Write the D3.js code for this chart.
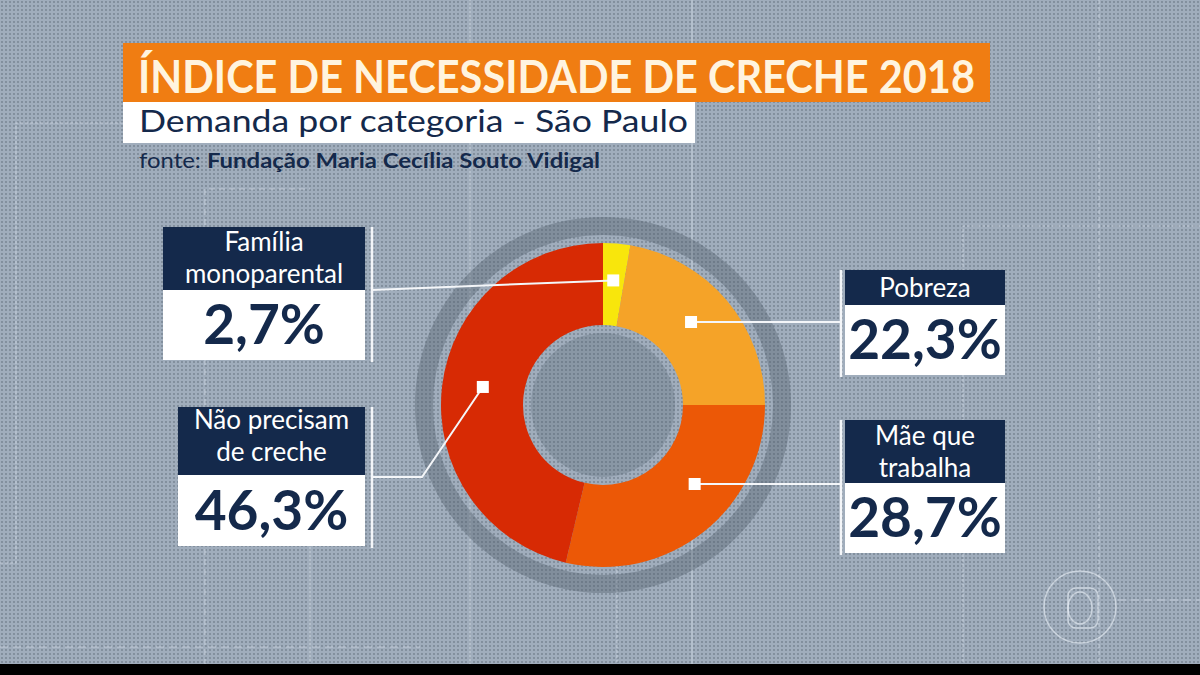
<!DOCTYPE html>
<html>
<head>
<meta charset="utf-8">
<script src="https://cdn.jsdelivr.net/npm/d3@7"></script>
<style>
  body { margin: 0; background: #000; }
  svg { display: block; font-family: Lato, "Open Sans", sans-serif; }
</style>
</head>
<body>
<div id="chart"></div>
<script>
var width = 1200;
var height = 675;

// data
var categories = ["Família monoparental", "Pobreza", "Mãe que trabalha", "Não precisam de creche"];
var headerLines = [["Família", "monoparental"], ["Pobreza"], ["Mãe que", "trabalha"], ["Não precisam", "de creche"]];
var values = [2.7, 22.3, 28.7, 46.3];
var colors = ["#f8e60c", "#f5a328", "#ec5806", "#d72a04"];

var titleText = "ÍNDICE DE NECESSIDADE DE CRECHE 2018";
var subtitleText = "Demanda por categoria - São Paulo";
var sourcePrefix = "fonte: ";
var sourceText = "Fundação Maria Cecília Souto Vidigal";

var navy = "#14294b";

// label box layout (one per category, same order); ty = baseline of last header line
var boxLayout = [
  { x: 163, y: 227, w: 202, hh: 63, vh: 70, ty: 283, sep: 372, anchor: [372, 290] },
  { x: 845, y: 270, w: 160, hh: 35, vh: 70, ty: 297, sep: 841, anchor: [841, 322], flat: true },
  { x: 845, y: 420, w: 160, hh: 63, vh: 70, ty: 477, sep: 841, anchor: [841, 484], flat: true },
  { x: 178, y: 407, w: 187, hh: 68, vh: 71, ty: 461, sep: 372, anchor: [372, 477], elbow: [422, 477] }
];
var lineGap = 32;

var svg = d3.select("#chart")
  .append("svg")
  .attr("width", width)
  .attr("height", height);

var defs = svg.append("defs");
var pat = defs.append("pattern")
  .attr("id", "dots")
  .attr("width", 4)
  .attr("height", 4)
  .attr("patternUnits", "userSpaceOnUse");
pat.append("rect").attr("width", 4).attr("height", 4).attr("fill", "#a0adbc");
pat.append("circle").attr("cx", 2).attr("cy", 2).attr("r", 0.9).attr("fill", "#75828f");

svg.append("rect")
  .attr("width", width)
  .attr("height", height)
  .attr("fill", "url(#dots)");

// faint guide lines in the background
var guides = [
  { d: "M0,563 H16 V123 H123", dash: "3,2" },
  { d: "M205,675 V189 H310", dash: "6,4" },
  { d: "M310,450 V662", dash: null },
  { d: "M470,0 V675", dash: null },
  { d: "M617,540 V662", dash: "3,2" },
  { d: "M692,0 V675", dash: null },
  { d: "M963,662 V226 H1200", dash: "3,2" },
  { d: "M1099,0 V662", dash: "4,3" },
  { d: "M0,647 H420", dash: "8,5" },
  { d: "M1118,600 H1200", dash: "8,5" }
];
svg.append("g")
  .selectAll("path")
  .data(guides)
  .enter()
  .append("path")
  .attr("d", function(d) { return d.d; })
  .attr("fill", "none")
  .attr("stroke", "rgba(235,242,250,0.45)")
  .attr("stroke-width", 1.2)
  .attr("stroke-dasharray", function(d) { return d.dash; });

// globo watermark
var logo = svg.append("g")
  .attr("fill", "none")
  .attr("stroke", "rgba(240,246,252,0.55)")
  .attr("stroke-width", 1.5);
logo.append("circle").attr("cx", 1080).attr("cy", 607).attr("r", 36);
logo.append("ellipse").attr("cx", 1080).attr("cy", 608).attr("rx", 12).attr("ry", 16);
logo.append("rect").attr("x", 1068).attr("y", 588).attr("width", 30).attr("height", 40).attr("rx", 8);

// title block
svg.append("rect").attr("x", 123).attr("y", 43).attr("width", 867).attr("height", 59).attr("fill", "#f07d12");
svg.append("rect").attr("x", 123).attr("y", 102).attr("width", 572).attr("height", 41).attr("fill", "#ffffff");

svg.append("text")
  .attr("x", 138).attr("y", 93)
  .attr("font-size", 46)
  .attr("font-weight", 700)
  .attr("fill", "#fff4df")
  .attr("textLength", 837)
  .attr("lengthAdjust", "spacingAndGlyphs")
  .text(titleText);

svg.append("text")
  .attr("x", 139).attr("y", 132)
  .attr("font-size", 30)
  .attr("fill", navy)
  .attr("textLength", 549)
  .attr("lengthAdjust", "spacingAndGlyphs")
  .text(subtitleText);

var src = svg.append("text")
  .attr("x", 139).attr("y", 168)
  .attr("font-size", 21)
  .attr("fill", navy)
  .attr("textLength", 461)
  .attr("lengthAdjust", "spacingAndGlyphs");
src.append("tspan").text(sourcePrefix);
src.append("tspan").attr("font-weight", 700).text(sourceText);

// donut
var cx = 603, cy = 405;
var outerR = 162, innerR = 80, markR = 121;

var chart = svg.append("g").attr("transform", "translate(" + cx + "," + cy + ")");

chart.append("path")
  .attr("d", d3.arc().innerRadius(170).outerRadius(188).startAngle(0).endAngle(2 * Math.PI)())
  .attr("fill", "rgba(80,92,106,0.38)");
chart.append("circle")
  .attr("r", 72)
  .attr("fill", "rgba(80,92,106,0.28)");

var pie = d3.pie().sort(null).value(function(d) { return d; });
var arcs = pie(values);

var arc = d3.arc().innerRadius(innerR).outerRadius(outerR);
var markArc = d3.arc().innerRadius(markR).outerRadius(markR);

chart.selectAll("path.slice")
  .data(arcs)
  .enter()
  .append("path")
  .attr("class", "slice")
  .attr("d", arc)
  .attr("fill", function(d, i) { return colors[i]; });

// marker positions
var markers = arcs.map(function(d, i) {
  var b = boxLayout[i];
  if (b.flat) {
    var dy = b.anchor[1] - cy;
    var dx = Math.sqrt(markR * markR - dy * dy);
    return [cx + dx, cy + dy];
  }
  var c = markArc.centroid(d);
  return [cx + c[0], cy + c[1] - 4];
});

var fmt = d3.format(".1f");

var boxes = svg.append("g")
  .selectAll("g")
  .data(categories)
  .enter()
  .append("g");

// separator lines and leaders
boxes.append("line")
  .attr("x1", function(d, i) { return boxLayout[i].sep; })
  .attr("x2", function(d, i) { return boxLayout[i].sep; })
  .attr("y1", function(d, i) { return boxLayout[i].y; })
  .attr("y2", function(d, i) { var b = boxLayout[i]; return b.y + b.hh + b.vh + 2; })
  .attr("stroke", "#f4f6f9")
  .attr("stroke-width", 2.5);

boxes.append("path")
  .attr("d", function(d, i) {
    var b = boxLayout[i];
    var pts = [b.anchor];
    if (b.elbow) pts.push(b.elbow);
    pts.push(markers[i]);
    return d3.line()(pts);
  })
  .attr("fill", "none")
  .attr("stroke", "#f4f6f9")
  .attr("stroke-width", 2);

boxes.append("rect")
  .attr("x", function(d, i) { return markers[i][0] - 6; })
  .attr("y", function(d, i) { return markers[i][1] - 6; })
  .attr("width", 12)
  .attr("height", 12)
  .attr("fill", "#ffffff");

boxes.append("rect")
  .attr("x", function(d, i) { return boxLayout[i].x; })
  .attr("y", function(d, i) { return boxLayout[i].y; })
  .attr("width", function(d, i) { return boxLayout[i].w; })
  .attr("height", function(d, i) { return boxLayout[i].hh; })
  .attr("fill", navy);

boxes.append("rect")
  .attr("x", function(d, i) { return boxLayout[i].x; })
  .attr("y", function(d, i) { return boxLayout[i].y + boxLayout[i].hh; })
  .attr("width", function(d, i) { return boxLayout[i].w; })
  .attr("height", function(d, i) { return boxLayout[i].vh; })
  .attr("fill", "#ffffff");

boxes.each(function(d, i) {
  var b = boxLayout[i];
  var g = d3.select(this);
  var lines = headerLines[i];
  var mid = b.x + b.w / 2;
  lines.forEach(function(t, j) {
    g.append("text")
      .attr("x", mid)
      .attr("y", b.ty - (lines.length - 1 - j) * lineGap)
      .attr("text-anchor", "middle")
      .attr("font-size", 26)
      .attr("fill", "#ffffff")
      .text(t);
  });
  g.append("text")
    .attr("x", mid)
    .attr("y", b.y + b.hh + b.vh - 16)
    .attr("text-anchor", "middle")
    .attr("font-size", 55)
    .attr("font-weight", 700)
    .attr("fill", navy)
    .text(fmt(values[i]).replace(".", ",") + "%");
});

// bottom black strip
svg.append("rect").attr("x", 0).attr("y", 664).attr("width", width).attr("height", 11).attr("fill", "#000");
</script>
</body>
</html>
